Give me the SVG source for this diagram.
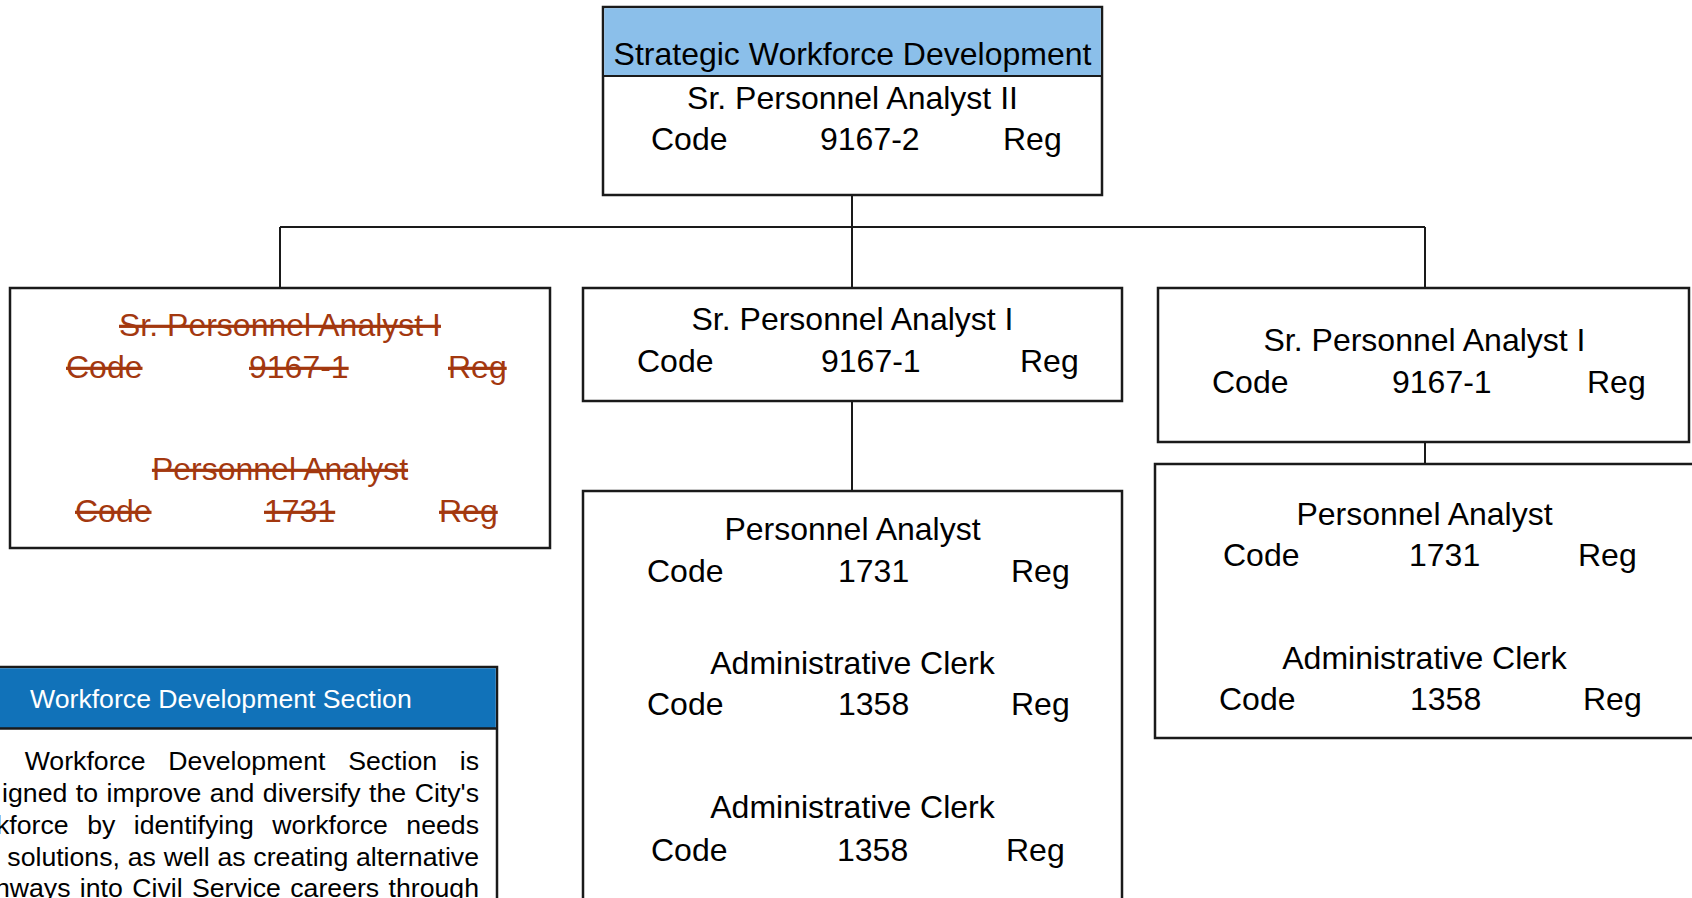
<svg xmlns="http://www.w3.org/2000/svg" width="1692" height="898" viewBox="0 0 1692 898">
<style>
  .box { fill: #ffffff; stroke: #1a1a1a; stroke-width: 2.5; }
  .conn { fill: none; stroke: #1a1a1a; stroke-width: 2; }
  .t { font-family: "Liberation Sans", Arial, sans-serif; font-size: 32px; fill: #000000; }
  .c { text-anchor: middle; }
  .s { fill: #A3380F; text-decoration: line-through; }
  .body { font-family: "Liberation Sans", Arial, sans-serif; font-size: 26.67px; fill: #000000; text-anchor: end; }
  .hdr { font-family: "Liberation Sans", Arial, sans-serif; font-size: 26.67px; fill: #ffffff; }
</style>
<rect width="1692" height="898" fill="#ffffff"/>

<g id="connectors">
  <path class="conn" d="M852,195 V227 M280,227 H1425 M280,227 V288 M852,227 V288 M1425,227 V288"/>
  <path class="conn" d="M852,401 V491"/>
  <path class="conn" d="M1425,442 V464"/>
</g>

<g id="node-top">
  <rect class="box" x="603" y="7" width="499" height="188"/>
  <rect x="604.25" y="8.25" width="496.5" height="67.5" fill="#8BBFEA"/>
  <line x1="603" y1="76" x2="1102" y2="76" stroke="#1a1a1a" stroke-width="2"/>
  <text class="t c" x="852.5" y="65">Strategic Workforce Development</text>
  <text class="t c" x="852.5" y="109">Sr. Personnel Analyst II</text>
  <text class="t" y="150"><tspan x="651">Code</tspan><tspan x="820">9167-2</tspan><tspan x="1003">Reg</tspan></text>
</g>

<g id="node-left">
  <rect class="box" x="10" y="288" width="540" height="260"/>
  <text class="t c s" x="280" y="336">Sr. Personnel Analyst I</text>
  <text class="t s" y="378"><tspan x="66">Code</tspan><tspan x="249">9167-1</tspan><tspan x="448">Reg</tspan></text>
  <text class="t c s" x="280" y="480">Personnel Analyst</text>
  <text class="t s" y="522"><tspan x="75">Code</tspan><tspan x="264">1731</tspan><tspan x="439">Reg</tspan></text>
</g>

<g id="node-mid1">
  <rect class="box" x="583" y="288" width="539" height="113"/>
  <text class="t c" x="852.5" y="330">Sr. Personnel Analyst I</text>
  <text class="t" y="372"><tspan x="637">Code</tspan><tspan x="821">9167-1</tspan><tspan x="1020">Reg</tspan></text>
</g>

<g id="node-mid2">
  <rect class="box" x="583" y="491" width="539" height="420"/>
  <text class="t c" x="852.5" y="540">Personnel Analyst</text>
  <text class="t" y="582"><tspan x="647">Code</tspan><tspan x="838">1731</tspan><tspan x="1011">Reg</tspan></text>
  <text class="t c" x="852.5" y="674">Administrative Clerk</text>
  <text class="t" y="715"><tspan x="647">Code</tspan><tspan x="838">1358</tspan><tspan x="1011">Reg</tspan></text>
  <text class="t c" x="852.5" y="818">Administrative Clerk</text>
  <text class="t" y="861"><tspan x="651">Code</tspan><tspan x="837">1358</tspan><tspan x="1006">Reg</tspan></text>
</g>

<g id="node-right1">
  <rect class="box" x="1158" y="288" width="531" height="154"/>
  <text class="t c" x="1424.5" y="351">Sr. Personnel Analyst I</text>
  <text class="t" y="393"><tspan x="1212">Code</tspan><tspan x="1392">9167-1</tspan><tspan x="1587">Reg</tspan></text>
</g>

<g id="node-right2">
  <rect class="box" x="1155" y="464" width="560" height="274"/>
  <text class="t c" x="1424.5" y="525">Personnel Analyst</text>
  <text class="t" y="566"><tspan x="1223">Code</tspan><tspan x="1409">1731</tspan><tspan x="1578">Reg</tspan></text>
  <text class="t c" x="1424.5" y="669">Administrative Clerk</text>
  <text class="t" y="710"><tspan x="1219">Code</tspan><tspan x="1410">1358</tspan><tspan x="1583">Reg</tspan></text>
</g>

<g id="node-section">
  <rect class="box" x="-20" y="667" width="517" height="260"/>
  <rect x="-19" y="668.25" width="514.75" height="60" fill="#1172B9"/>
  <line x1="-20" y1="728.5" x2="497" y2="728.5" stroke="#1a1a1a" stroke-width="2.5"/>
  <text class="hdr" x="30" y="708">Workforce Development Section</text>
  <text class="body" x="479" y="770" word-spacing="15.3">Workforce Development Section is</text>
  <text class="body" x="479" y="802" word-spacing="1.1">igned to improve and diversify the City's</text>
  <text class="body" x="479" y="834" word-spacing="11.1">kforce by identifying workforce needs</text>
  <text class="body" x="479" y="866" word-spacing="0.4">solutions, as well as creating alternative</text>
  <text class="body" x="479" y="897" word-spacing="2">hways into Civil Service careers through</text>
</g>
</svg>
